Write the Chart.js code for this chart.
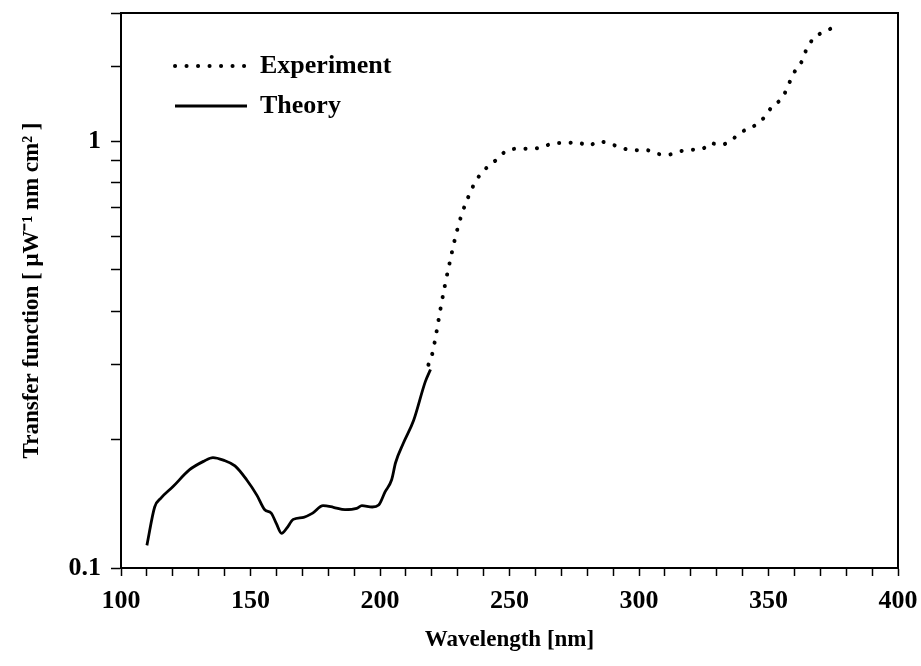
<!DOCTYPE html>
<html>
<head>
<meta charset="utf-8">
<title>Transfer function</title>
<script src="https://cdn.jsdelivr.net/npm/chart.js@4.4.1/dist/chart.umd.min.js"></script>
<style>
    html, body { margin: 0; padding: 0; background: #fff; }
</style>
</head>
<body>
<canvas id="transferChart" width="921" height="666"></canvas>
<script>
// Theory curve (solid)
const theoryNm = [110, 113, 115.5, 120, 126.5, 132, 135.5, 139.5, 144, 148.5, 152.5, 155.5, 158, 160, 162, 164,
    166.5, 170.5, 174, 178, 182, 186.5, 191, 193, 197, 199.5, 202, 204.5, 206, 209, 213, 217.5, 219.5];
const theoryVal = [0.113, 0.139, 0.146, 0.155, 0.170, 0.178, 0.1815, 0.179, 0.1735, 0.161, 0.148, 0.137, 0.1345, 0.127, 0.1205, 0.124,
    0.130, 0.1315, 0.1345, 0.140, 0.1388, 0.137, 0.138, 0.140, 0.139, 0.1405, 0.151, 0.161, 0.1765, 0.196, 0.222, 0.2735, 0.292];

// Experiment curve (dotted)
const expNm = [218.7, 220.2, 221.9, 223.4, 225.1, 227, 229, 231.5, 235, 237.3, 240.7, 244.7, 249.2, 253.4, 257.9, 262.8,
    267.3, 271.7, 276.2, 280.4, 284.5, 289.1, 293.5, 297.8, 302.3, 306.8, 311.3, 315.8, 320.3, 324.6, 327.4, 331.5,
    335.4, 339.3, 343.8, 347.8, 351.2, 355.5, 357.6, 359.8, 362.8, 364.5, 367.3, 371.8, 376.3];
const expVal = [0.2995, 0.318, 0.360, 0.4065, 0.461, 0.523, 0.593, 0.673, 0.763, 0.813, 0.862, 0.903, 0.953, 0.961, 0.961, 0.970,
    0.991, 0.991, 0.995, 0.977, 1.0, 0.986, 0.965, 0.953, 0.956, 0.936, 0.931, 0.948, 0.956, 0.961, 0.991, 0.981,
    1.004, 1.05, 1.081, 1.129, 1.202, 1.271, 1.353, 1.447, 1.538, 1.635, 1.741, 1.811, 1.862];

const xLimits = [100, 400];
const yLimits = [0.1, 2];
const yLabelled = [0.1, 1];

Chart.defaults.font.family = '"Liberation Serif", "Times New Roman", serif';
Chart.defaults.font.weight = 'bold';
Chart.defaults.color = '#000';

const toPoints = (xs, ys) => xs.map((x, i) => ({ x: x, y: ys[i] }));

// move the legend inside the plot box, top-left
const legendInside = {
    id: 'legendInside',
    afterLayout(chart) {
        const lg = chart.legend;
        const area = chart.chartArea;
        if (!lg) return;
        const w = lg.width;
        lg.left = area.left + 40;
        lg.top = area.top + 26;
        lg.right = lg.left + w;
        lg.bottom = area.bottom;
        lg.height = lg.bottom - lg.top;
    }
};

// legend samples take the dataset's own line style
const lineLegendLabels = chart => {
    const items = Chart.defaults.plugins.legend.labels.generateLabels(chart);
    return items.map(item => {
        const ds = chart.data.datasets[item.datasetIndex];
        return Object.assign(item, {
            pointStyle: 'line',
            lineDash: ds.borderDash || [],
            lineCap: ds.borderCapStyle || 'butt',
            lineWidth: ds.borderWidth,
            strokeStyle: ds.borderColor
        });
    });
};

const noPad = s => {
    s.paddingTop = 0;
    s.paddingBottom = 0;
    s.paddingLeft = 0;
    s.paddingRight = 0;
};

const boxAxis = (type, position, limits) => ({
    type: type,
    position: position,
    min: limits[0],
    max: limits[1],
    border: { display: true, color: '#000', width: 2 },
    grid: { display: false, drawTicks: false },
    ticks: { display: false },
    afterFit: s => {
        if (position === 'top') s.height = 0;
        else s.width = 0;
        noPad(s);
    }
});

const ctx = document.getElementById('transferChart').getContext('2d');
new Chart(ctx, {
    type: 'line',
    data: {
        datasets: [{
            label: 'Experiment',
            data: toPoints(expNm, expVal),
            borderColor: '#000',
            backgroundColor: '#000',
            borderWidth: 4,
            borderDash: [0.1, 11.4],
            borderCapStyle: 'round',
            pointRadius: 0,
            fill: false,
            cubicInterpolationMode: 'monotone'
        }, {
            label: 'Theory',
            data: toPoints(theoryNm, theoryVal),
            borderColor: '#000',
            backgroundColor: '#000',
            borderWidth: 2.8,
            pointRadius: 0,
            fill: false,
            cubicInterpolationMode: 'monotone'
        }]
    },
    options: {
        responsive: false,
        animation: false,
        layout: { padding: { left: 0, right: 23, top: 13, bottom: 0 } },
        plugins: {
            legend: {
                position: 'chartArea',
                align: 'start',
                labels: {
                    usePointStyle: true,
                    pointStyle: 'line',
                    pointStyleWidth: 72,
                    padding: 14,
                    color: '#000',
                    font: { size: 26 },
                    generateLabels: lineLegendLabels
                }
            },
            tooltip: { enabled: false }
        },
        scales: {
            x: {
                type: 'linear',
                position: 'bottom',
                min: xLimits[0],
                max: xLimits[1],
                border: { display: true, color: '#000', width: 2 },
                grid: { drawOnChartArea: false, drawTicks: true, tickLength: 8, tickColor: '#000', tickWidth: 1.5 },
                ticks: {
                    stepSize: 10,
                    autoSkip: false,
                    maxRotation: 0,
                    padding: 10,
                    color: '#000',
                    font: { size: 26 },
                    callback: v => (v % 50 === 0 ? String(v) : '')
                },
                title: {
                    display: true,
                    text: 'Wavelength [nm]',
                    color: '#000',
                    font: { size: 23 },
                    padding: { top: 0, bottom: 12 }
                },
                afterFit: s => { s.height = 98; noPad(s); }
            },
            y: {
                type: 'logarithmic',
                position: 'left',
                min: yLimits[0],
                max: yLimits[1],
                border: { display: true, color: '#000', width: 2 },
                grid: { drawOnChartArea: false, drawTicks: true, tickLength: 10, tickColor: '#000', tickWidth: 1.5 },
                ticks: {
                    autoSkip: false,
                    padding: 10,
                    color: '#000',
                    font: { size: 26 },
                    callback: v => {
                        const hit = yLabelled.find(l => Math.abs(v - l) < 1e-9);
                        return hit === undefined ? '' : String(hit);
                    }
                },
                title: {
                    display: true,
                    text: 'Transfer function [ μW⁻¹ nm cm² ]',
                    color: '#000',
                    font: { size: 23 },
                    padding: { top: 18, bottom: 0 }
                },
                afterFit: s => { s.width = 121; noPad(s); }
            },
            x2: boxAxis('linear', 'top', xLimits),
            y2: boxAxis('logarithmic', 'right', yLimits)
        }
    },
    plugins: [legendInside]
});
</script>
</body>
</html>
